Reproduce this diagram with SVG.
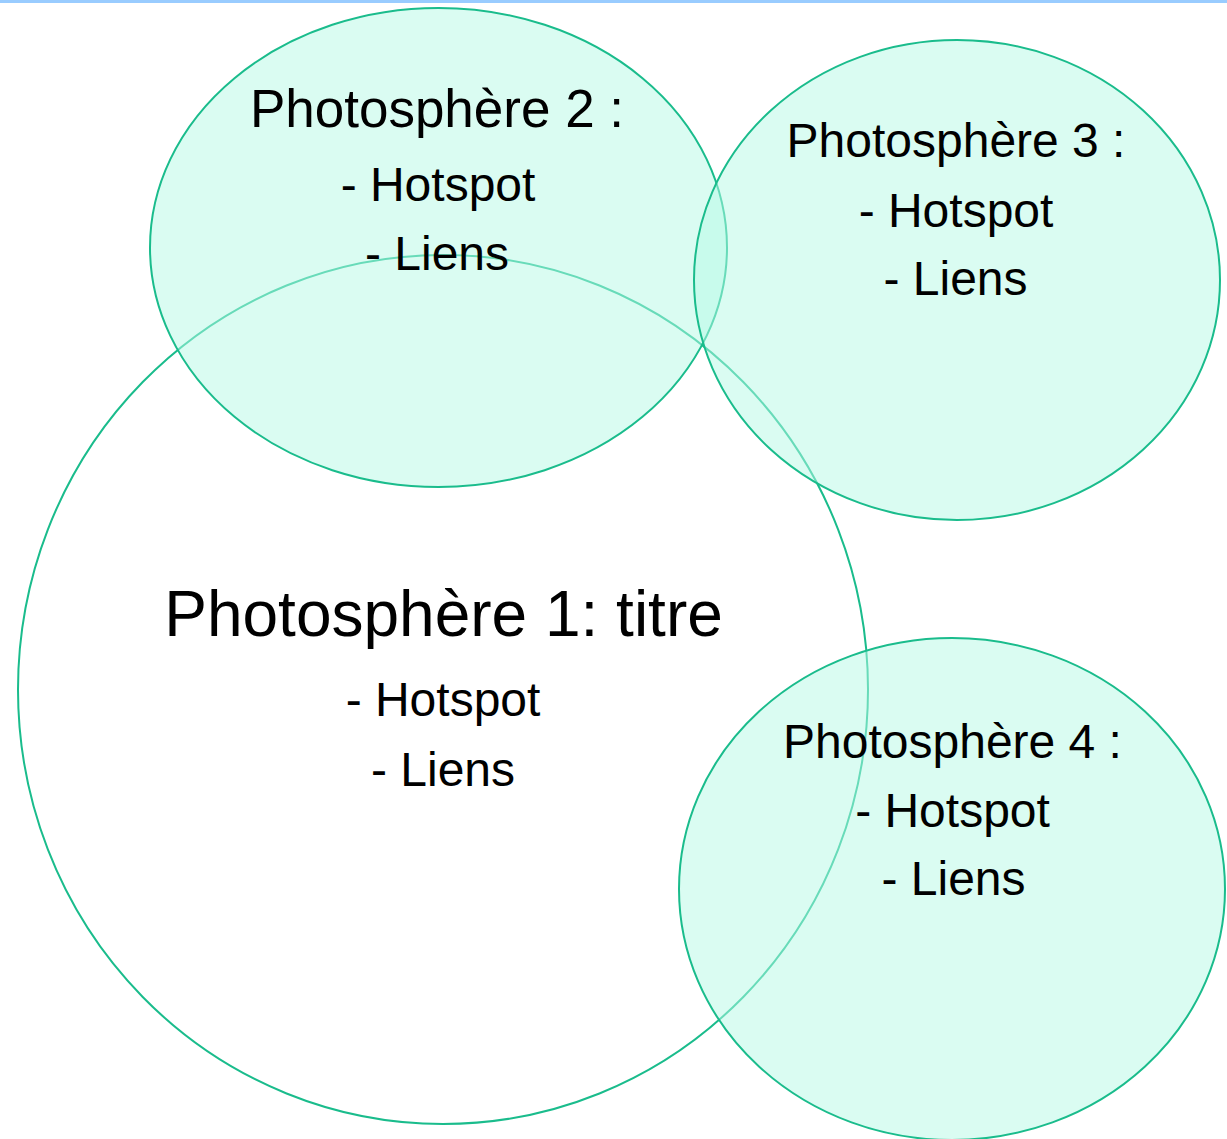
<svg xmlns="http://www.w3.org/2000/svg" width="1227" height="1139" viewBox="0 0 1227 1139">
<style>
.c{fill:#B5F9E5;fill-opacity:0.5;stroke:#1ABC8C;stroke-width:2}
.c1{fill:none;stroke:#1ABC8C;stroke-width:2}
text{font-family:"Liberation Sans",Arial,sans-serif;fill:#000;text-anchor:middle}
.s{font-size:48px}
</style>
<rect x="0" y="0" width="1227" height="1139" fill="#fff"/>
<rect x="0" y="0" width="1227" height="3" fill="#99CCFF"/>
<g id="node1">
<ellipse class="c1" cx="443" cy="689.5" rx="425" ry="434.5"/>
<text x="443.5" y="636" style="font-size:64px">Photosphère 1: titre</text>
<text class="s" x="443" y="716">- Hotspot</text>
<text class="s" x="443" y="786">- Liens</text>
</g>
<g id="node2">
<ellipse class="c" cx="438.5" cy="247.5" rx="288.5" ry="239.5"/>
<text x="437" y="127" style="font-size:53px">Photosphère 2 :</text>
<text class="s" x="438" y="201">- Hotspot</text>
<text class="s" x="437" y="270">- Liens</text>
</g>
<g id="node3">
<ellipse class="c" cx="957" cy="280" rx="263" ry="240"/>
<text class="s" x="956" y="157">Photosphère 3 :</text>
<text class="s" x="956" y="227">- Hotspot</text>
<text class="s" x="955.5" y="295">- Liens</text>
</g>
<g id="node4">
<ellipse class="c" cx="952" cy="889" rx="273" ry="251"/>
<text class="s" x="952.5" y="758">Photosphère 4 :</text>
<text class="s" x="952.5" y="827">- Hotspot</text>
<text class="s" x="953.5" y="895">- Liens</text>
</g>
<g id="connectors"/>
</svg>
